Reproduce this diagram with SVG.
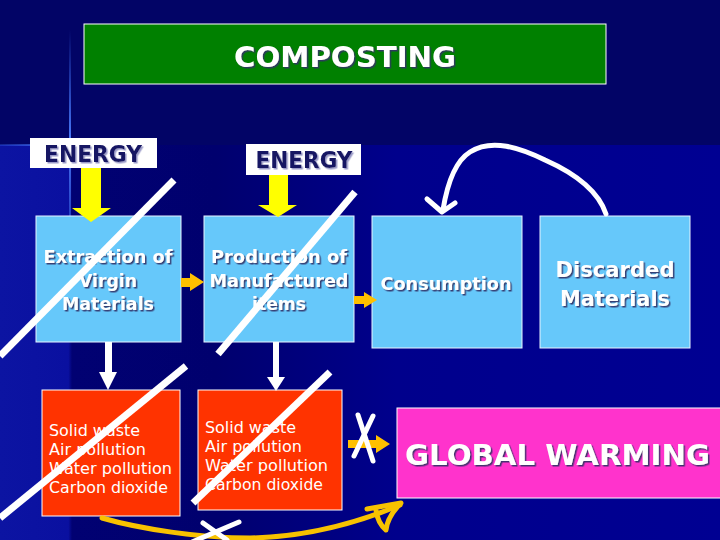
<svg xmlns="http://www.w3.org/2000/svg" width="720" height="540" viewBox="0 0 720 540">
<defs>
  <linearGradient id="lowbg" x1="0" y1="0" x2="720" y2="0" gradientUnits="userSpaceOnUse">
    <stop offset="0" stop-color="#0c14a2"/>
    <stop offset="0.095" stop-color="#0a10a0"/>
    <stop offset="0.1" stop-color="#010172"/>
    <stop offset="0.3" stop-color="#00006e"/>
    <stop offset="0.55" stop-color="#00008c"/>
    <stop offset="1" stop-color="#000092"/>
  </linearGradient>
  <linearGradient id="vglow" x1="0" y1="30" x2="0" y2="300" gradientUnits="userSpaceOnUse">
    <stop offset="0" stop-color="#3a6af0" stop-opacity="0"/>
    <stop offset="0.4" stop-color="#4a7af8" stop-opacity="1"/>
    <stop offset="1" stop-color="#3a6af0" stop-opacity="0"/>
  </linearGradient>
  <linearGradient id="hglow" x1="0" y1="0" x2="85" y2="0" gradientUnits="userSpaceOnUse">
    <stop offset="0" stop-color="#3a6af0" stop-opacity="0.3"/>
    <stop offset="0.8" stop-color="#4a7af8" stop-opacity="1"/>
    <stop offset="1" stop-color="#4a7af8" stop-opacity="0"/>
  </linearGradient>
  <filter id="dsh" x="-10%" y="-30%" width="130%" height="160%">
    <feDropShadow dx="1.5" dy="1.5" stdDeviation="0.3" flood-color="#333366" flood-opacity="0.9"/>
  </filter>
  <filter id="lsh" x="-10%" y="-30%" width="130%" height="160%">
    <feDropShadow dx="1.5" dy="1.5" stdDeviation="0.3" flood-color="#9a9ac8" flood-opacity="1"/>
  </filter>
  <style>
    .bold { font-family: "DejaVu Sans", "Liberation Sans", sans-serif; font-weight: bold; }
    .reg { font-family: "DejaVu Sans", "Liberation Sans", sans-serif; font-size: 16px; fill: #ffffff; }
    .wt { fill: #ffffff; filter: url(#dsh); }
    .nv { fill: #141464; filter: url(#lsh); }
    .blue { fill: #66c8fa; stroke: #e8f4ff; stroke-width: 1; }
    .red { fill: #ff3300; stroke: #ffffff; stroke-width: 1; }
    .slash { stroke: #ffffff; stroke-width: 7; fill: none; }
    .wline { stroke: #ffffff; stroke-width: 5; fill: none; stroke-linecap: round; stroke-linejoin: round; }
    .yline { stroke: #f7c200; stroke-width: 5; fill: none; stroke-linecap: round; stroke-linejoin: round; }
  </style>
</defs>

<!-- background -->
<rect x="0" y="0" width="720" height="540" fill="#020466"/>
<rect x="0" y="145" width="720" height="395" fill="url(#lowbg)"/>
<rect x="69" y="30" width="2" height="270" fill="url(#vglow)"/>
<rect x="0" y="144" width="85" height="2" fill="url(#hglow)"/>

<g id="title">
  <rect x="84" y="24" width="522" height="60" fill="#008000" stroke="#ffffff" stroke-width="1"/>
  <text class="bold wt" x="345" y="67" font-size="29" text-anchor="middle" textLength="222" lengthAdjust="spacingAndGlyphs">COMPOSTING</text>
</g>

<g id="energy1">
  <rect x="30" y="138" width="127" height="30" fill="#ffffff"/>
  <text class="bold nv" x="93" y="162" font-size="23" text-anchor="middle" textLength="98" lengthAdjust="spacingAndGlyphs">ENERGY</text>
</g>
<g id="energy2">
  <rect x="246" y="144" width="115" height="31" fill="#ffffff"/>
  <text class="bold nv" x="304" y="168" font-size="23" text-anchor="middle" textLength="97" lengthAdjust="spacingAndGlyphs">ENERGY</text>
</g>

<g id="extraction">
  <rect class="blue" x="36" y="216" width="145" height="126"/>
  <text class="bold wt" x="108" y="263" font-size="18" text-anchor="middle" textLength="129" lengthAdjust="spacingAndGlyphs">Extraction of</text>
  <text class="bold wt" x="108" y="287" font-size="18" text-anchor="middle" textLength="58" lengthAdjust="spacingAndGlyphs">Virgin</text>
  <text class="bold wt" x="108" y="310" font-size="18" text-anchor="middle" textLength="92" lengthAdjust="spacingAndGlyphs">Materials</text>
</g>
<g id="production">
  <rect class="blue" x="204" y="216" width="150" height="126"/>
  <text class="bold wt" x="279" y="263" font-size="18" text-anchor="middle" textLength="136" lengthAdjust="spacingAndGlyphs">Production of</text>
  <text class="bold wt" x="279" y="287" font-size="18" text-anchor="middle" textLength="139" lengthAdjust="spacingAndGlyphs">Manufactured</text>
  <text class="bold wt" x="279" y="310" font-size="18" text-anchor="middle" textLength="54" lengthAdjust="spacingAndGlyphs">items</text>
</g>
<g id="consumption">
  <rect class="blue" x="372" y="216" width="150" height="132"/>
  <text class="bold wt" x="446" y="290" font-size="17" text-anchor="middle" textLength="131" lengthAdjust="spacingAndGlyphs">Consumption</text>
</g>
<g id="discarded">
  <rect class="blue" x="540" y="216" width="150" height="132"/>
  <text class="bold wt" x="615" y="277" font-size="21" text-anchor="middle" textLength="119" lengthAdjust="spacingAndGlyphs">Discarded</text>
  <text class="bold wt" x="615" y="306" font-size="21" text-anchor="middle" textLength="110" lengthAdjust="spacingAndGlyphs">Materials</text>
</g>

<g id="waste1">
  <rect class="red" x="42" y="390" width="138" height="126"/>
  <text class="reg" x="49" y="436" textLength="91" lengthAdjust="spacingAndGlyphs">Solid waste</text>
  <text class="reg" x="49" y="455" textLength="97" lengthAdjust="spacingAndGlyphs">Air pollution</text>
  <text class="reg" x="49" y="474" textLength="123" lengthAdjust="spacingAndGlyphs">Water pollution</text>
  <text class="reg" x="49" y="493" textLength="119" lengthAdjust="spacingAndGlyphs">Carbon dioxide</text>
</g>
<g id="waste2">
  <rect class="red" x="198" y="390" width="144" height="120"/>
  <text class="reg" x="205" y="433" textLength="91" lengthAdjust="spacingAndGlyphs">Solid waste</text>
  <text class="reg" x="205" y="452" textLength="97" lengthAdjust="spacingAndGlyphs">Air pollution</text>
  <text class="reg" x="205" y="471" textLength="123" lengthAdjust="spacingAndGlyphs">Water pollution</text>
  <text class="reg" x="205" y="490" textLength="118" lengthAdjust="spacingAndGlyphs">Carbon dioxide</text>
</g>

<g id="global-warming">
  <rect x="397" y="408" width="330" height="90" fill="#ff33cc" stroke="#ffffff" stroke-width="1"/>
  <text class="bold wt" x="405" y="465" font-size="28" textLength="305" lengthAdjust="spacingAndGlyphs">GLOBAL WARMING</text>
</g>

<g id="connectors">
  <!-- energy arrows -->
  <polygon points="81,168 101,168 101,208 111,208 91,222 72,208 81,208" fill="#ffff00"/>
  <polygon points="269,175 288,175 288,205 297,205 278,217 258,205 269,205" fill="#ffff00"/>
  <!-- flow arrows -->
  <polygon points="181,278 190,278 190,273 204,282 190,291 190,287 181,287" fill="#ffc000"/>
  <polygon points="354,296 364,296 364,292 377,300 364,308 364,304 354,304" fill="#ffc000"/>
  <polygon points="348,440 376,440 376,435 390,444 376,453 376,448 348,448" fill="#ffc000"/>
  <!-- down arrows -->
  <rect x="105" y="342" width="7" height="31" fill="#ffffff"/>
  <polygon points="99,372 117,372 108,390" fill="#ffffff"/>
  <rect x="273" y="342" width="6" height="36" fill="#ffffff"/>
  <polygon points="267,377 285,377 276,391" fill="#ffffff"/>
  <!-- recycle curve -->
  <path class="wline" d="M606,214 C598,190 572,172 545,160 C520,148 492,138 470,152 C454,162 447,185 443,210"/>
  <polyline class="wline" points="427,199 442,212 455,203"/>
  <!-- compost curve -->
  <path class="yline" d="M102,518 C140,529 200,538 250,538 C300,537 350,526 400,505"/>
  <path class="yline" d="M367,509 L401,503 C393,511 387,521 386,530 C380,525 377,518 376,510"/>
</g>

<g id="strikes">
  <line class="slash" x1="174" y1="180" x2="0" y2="356"/>
  <line class="slash" x1="355" y1="192" x2="218" y2="354"/>
  <line class="slash" x1="186" y1="366" x2="0" y2="518"/>
  <line class="slash" x1="330" y1="372" x2="193" y2="503"/>
  <line class="wline" x1="358" y1="415" x2="373" y2="461"/>
  <line class="wline" x1="373" y1="416" x2="354" y2="456"/>
  <line class="wline" x1="203" y1="523" x2="227" y2="540"/>
  <line class="wline" x1="239" y1="522" x2="192" y2="542"/>
</g>
</svg>
